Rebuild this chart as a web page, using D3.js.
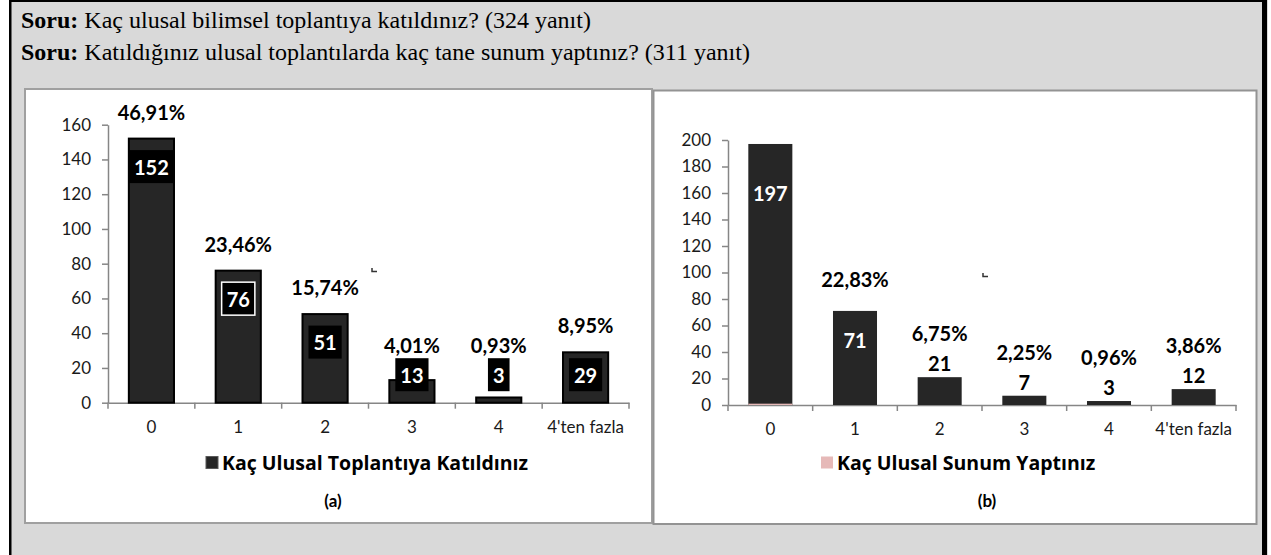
<!DOCTYPE html>
<html>

<head>
    <meta charset="utf-8">
    <title>Ulusal toplantılar</title>
    <script src="https://d3js.org/d3.v7.min.js"></script>
    <style>
        body { margin: 0; background: #fff; }
        svg text { font-family: Lato, "Open Sans", sans-serif; }
    </style>
</head>

<body>
    <script>
        // data
        const categories = ["0", "1", "2", "3", "4", "4'ten fazla"];
        const meetingCounts = [152, 76, 51, 13, 3, 29];
        const meetingPct = ["46,91%", "23,46%", "15,74%", "4,01%", "0,93%", "8,95%"];
        const talkCounts = [197, 71, 21, 7, 3, 12];
        const talkPct = [null, "22,83%", "6,75%", "2,25%", "0,96%", "3,86%"];
        const talkPink = [1, 0, 0, 0, 0, 0];
        const yTicksA = [0, 20, 40, 60, 80, 100, 120, 140, 160];
        const yTicksB = [0, 20, 40, 60, 80, 100, 120, 140, 160, 180, 200];
        const questions = [
            ["Soru:", " Kaç ulusal bilimsel toplantıya katıldınız? (324 yanıt)"],
            ["Soru:", " Katıldığınız ulusal toplantılarda kaç tane sunum yaptınız? (311 yanıt)"]
        ];

        const width = 1271;
        const height = 555;
        const barColor = "#262626";
        const axisColor = "#868686";

        const svg = d3.select("body")
            .append("svg")
            .attr("width", width)
            .attr("height", height);

        // grey card with black frame
        svg.append("rect")
            .attr("x", 9).attr("y", 0)
            .attr("width", 1259).attr("height", height)
            .attr("fill", "#d9d9d9");
        svg.append("rect").attr("x", 9).attr("y", 0).attr("width", 2.5).attr("height", height).attr("fill", "#000");
        svg.append("rect").attr("x", 1262).attr("y", 0).attr("width", 5).attr("height", height).attr("fill", "#000");
        svg.append("rect").attr("x", 9).attr("y", 0).attr("width", 1258).attr("height", 2).attr("fill", "#000");

        // question lines
        questions.forEach((q, i) => {
            const t = svg.append("text")
                .attr("x", 21)
                .attr("y", 28 + i * 32)
                .style("font-family", "'Liberation Serif', 'Times New Roman', serif")
                .attr("font-size", 24)
                .attr("fill", "#000");
            t.append("tspan").attr("font-weight", "bold").text(q[0]);
            t.append("tspan").text(q[1]);
        });

        // white panels
        svg.append("rect")
            .attr("x", 25).attr("y", 89)
            .attr("width", 627).attr("height", 434)
            .attr("fill", "#fff")
            .attr("stroke", "#a0a0a0").attr("stroke-width", 2);
        svg.append("rect")
            .attr("x", 653.5).attr("y", 90.5)
            .attr("width", 603).attr("height", 433.5)
            .attr("fill", "#fff")
            .attr("stroke", "#939393").attr("stroke-width", 2);

        function drawAxes(xScale, yScale, ticks) {
            const g = svg.append("g");
            const x0 = xScale.range()[0];
            const y0 = yScale(0);

            // y axis
            const yAxis = g.append("g")
                .attr("transform", `translate(${x0},0)`)
                .call(d3.axisLeft(yScale).tickValues(ticks).tickSize(6).tickPadding(11).tickSizeOuter(0));
            yAxis.select(".domain").attr("stroke", axisColor).attr("stroke-width", 1.5);
            yAxis.selectAll(".tick line").attr("stroke", axisColor).attr("stroke-width", 1.5);
            yAxis.selectAll("text").attr("font-size", 17).attr("fill", "#1a1a1a")
                .style("font-family", "Lato, sans-serif");

            // x axis, labels at band centres
            const xAxis = g.append("g")
                .attr("transform", `translate(0,${y0})`)
                .call(d3.axisBottom(xScale).tickSize(0).tickPadding(18));
            xAxis.select(".domain").attr("stroke", axisColor).attr("stroke-width", 1.5);
            xAxis.selectAll("text").attr("font-size", 17).attr("fill", "#1a1a1a")
                .style("font-family", "Lato, sans-serif");

            // ticks at band boundaries
            const bounds = d3.range(categories.length + 1).map(i => x0 + i * xScale.step());
            g.selectAll(".bound")
                .data(bounds)
                .join("line")
                .attr("x1", d => d).attr("x2", d => d)
                .attr("y1", y0).attr("y2", y0 + 6)
                .attr("stroke", axisColor).attr("stroke-width", 1.5);
        }

        function legend(x, color, stroke, label, caption, captionX) {
            svg.append("rect")
                .attr("x", x).attr("y", 456.5)
                .attr("width", 12).attr("height", 12)
                .attr("fill", color).attr("stroke", stroke);
            svg.append("text")
                .attr("x", x + 16).attr("y", 462.5)
                .attr("dominant-baseline", "central")
                .style("font-family", "'Open Sans', Lato, sans-serif")
                .attr("font-size", 19.5).attr("font-weight", "bold")
                .attr("fill", "#000")
                .text(label);
            svg.append("text")
                .attr("x", captionX).attr("y", 500)
                .attr("text-anchor", "middle")
                .attr("dominant-baseline", "central")
                .attr("font-size", 17).attr("font-weight", "bold")
                .text(caption);
        }

        // ---------- panel (a) ----------
        const xA = d3.scaleBand()
            .domain(categories)
            .range([108, 629])
            .paddingInner(0.48)
            .paddingOuter(0.24);
        const yA = d3.scaleLinear().domain([0, 160]).range([402.7, 124.7]);

        drawAxes(xA, yA, yTicksA);

        svg.append("g").selectAll("rect")
            .data(meetingCounts)
            .join("rect")
            .attr("x", (d, i) => xA(categories[i]))
            .attr("y", d => yA(d))
            .attr("width", xA.bandwidth())
            .attr("height", d => yA(0) - yA(d))
            .attr("fill", barColor)
            .attr("stroke", "#000")
            .attr("stroke-width", 2);

        // boxed value labels
        const boxY = d => Math.min(yA(d) + 28, yA(0) - 28);
        const valA = svg.append("g").selectAll("g")
            .data(meetingCounts)
            .join("g")
            .attr("transform", (d, i) => `translate(${xA(categories[i]) + xA.bandwidth() / 2},${boxY(d)})`);
        valA.append("text")
            .attr("text-anchor", "middle")
            .attr("dominant-baseline", "central")
            .attr("font-size", 20)
            .attr("font-weight", "bold")
            .attr("fill", "#fff")
            .text(d => d);
        valA.each(function(d, i) {
            const g = d3.select(this);
            const w = g.select("text").node().getComputedTextLength() + 10;
            g.insert("rect", "text")
                .attr("x", -w / 2).attr("y", -16.5)
                .attr("width", w).attr("height", 33)
                .attr("fill", "#000")
                .attr("stroke", i === 1 ? "#fff" : "none")
                .attr("stroke-width", 1.5);
        });

        svg.append("g").selectAll("text")
            .data(meetingCounts)
            .join("text")
            .attr("x", (d, i) => xA(categories[i]) + xA.bandwidth() / 2)
            .attr("y", d => Math.min(yA(d) - 27, boxY(d) - 30))
            .attr("text-anchor", "middle")
            .attr("dominant-baseline", "central")
            .attr("font-size", 20)
            .attr("font-weight", "bold")
            .attr("fill", "#000")
            .text((d, i) => meetingPct[i]);

        legend(206, barColor, "#595959", "Kaç Ulusal Toplantıya Katıldınız", "(a)", 333);

        // ---------- panel (b) ----------
        const xB = d3.scaleBand()
            .domain(categories)
            .range([728, 1236])
            .paddingInner(0.48)
            .paddingOuter(0.24);
        const yB = d3.scaleLinear().domain([0, 200]).range([405, 140]);

        drawAxes(xB, yB, yTicksB);

        svg.append("g").selectAll("rect")
            .data(talkCounts)
            .join("rect")
            .attr("x", (d, i) => xB(categories[i]))
            .attr("y", d => yB(d))
            .attr("width", xB.bandwidth())
            .attr("height", d => yB(0) - yB(d))
            .attr("fill", barColor);

        svg.append("g").selectAll("rect")
            .data(talkPink)
            .join("rect")
            .attr("x", (d, i) => xB(categories[i]))
            .attr("y", d => yB(d))
            .attr("width", xB.bandwidth())
            .attr("height", d => yB(0) - yB(d))
            .attr("fill", "#e6b9b8");

        // tall bars get the number inside in white, short ones above in black
        const inside = d => d > 50;
        const valYB = d => inside(d) ? yB(d) + 18 + 0.12 * (yB(0) - yB(d)) : yB(d) - 14;

        svg.append("g").selectAll("text")
            .data(talkCounts)
            .join("text")
            .attr("x", (d, i) => xB(categories[i]) + xB.bandwidth() / 2)
            .attr("y", d => valYB(d))
            .attr("text-anchor", "middle")
            .attr("dominant-baseline", "central")
            .attr("font-size", 20)
            .attr("font-weight", "bold")
            .attr("fill", d => inside(d) ? "#fff" : "#000")
            .text(d => d);

        svg.append("g").selectAll("text")
            .data(talkCounts)
            .join("text")
            .attr("x", (d, i) => xB(categories[i]) + xB.bandwidth() / 2)
            .attr("y", d => inside(d) ? yB(d) - 32 : valYB(d) - 30)
            .attr("text-anchor", "middle")
            .attr("dominant-baseline", "central")
            .attr("font-size", 20)
            .attr("font-weight", "bold")
            .attr("fill", "#000")
            .text((d, i) => talkPct[i] || "");

        legend(821, "#e6b9b8", "none", "Kaç Ulusal Sunum Yaptınız", "(b)", 987);

        // two small stray marks in the original
        [[372, 268], [983, 273]].forEach(p => {
            svg.append("path")
                .attr("d", `M${p[0]},${p[1]} v3.5 h5`)
                .attr("fill", "none")
                .attr("stroke", "#333")
                .attr("stroke-width", 1.5);
        });
    </script>
</body>

</html>
